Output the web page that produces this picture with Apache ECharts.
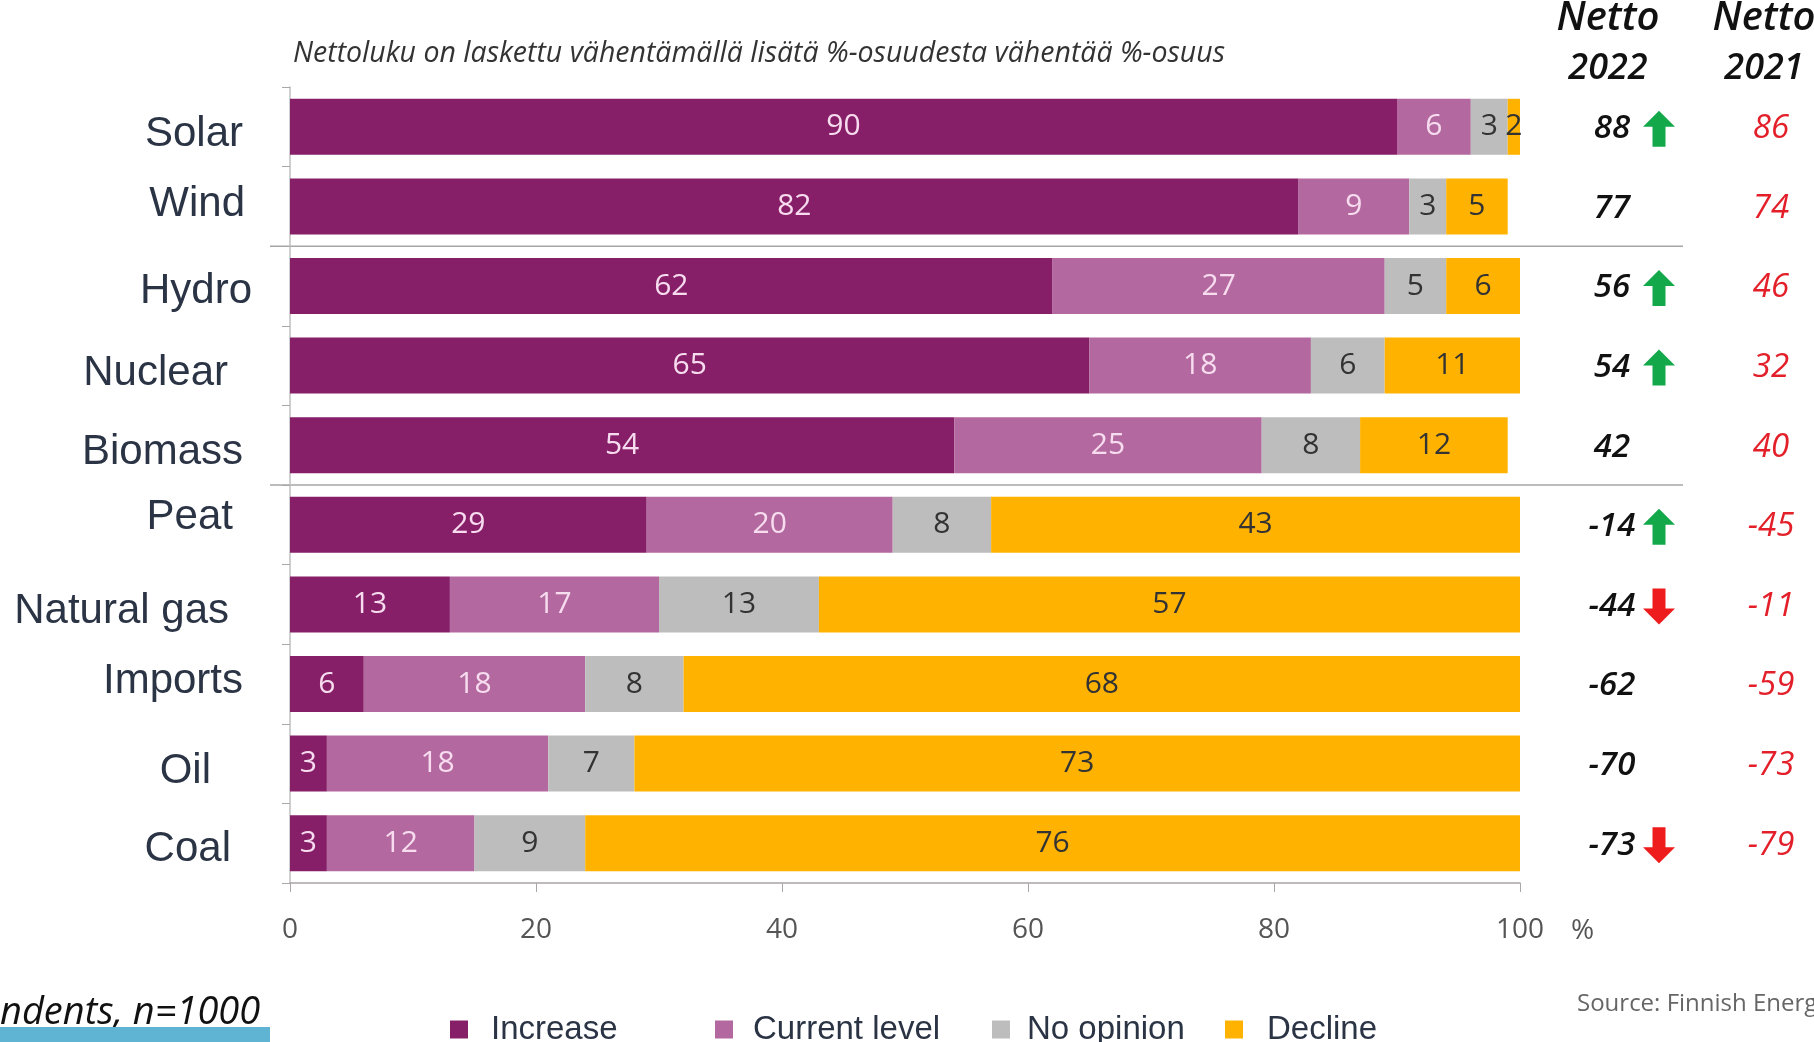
<!DOCTYPE html>
<html>
<head>
<meta charset="utf-8">
<script src="https://cdn.jsdelivr.net/npm/echarts@6/dist/echarts.min.js"></script>
<style>
html,body{margin:0;padding:0;background:#fff;}
#c{width:1814px;height:1042px;}
</style>
</head>
<body>
<div id="c"></div>
<script>
var categories = ['Solar','Wind','Hydro','Nuclear','Biomass','Peat','Natural gas','Imports','Oil','Coal'];
var increase   = [90, 82, 62, 65, 54, 29, 13, 6, 3, 3];
var current    = [6, 9, 27, 18, 25, 20, 17, 18, 18, 12];
var noOpinion  = [3, 3, 5, 6, 8, 8, 13, 8, 7, 9];
var decline    = [2, 5, 6, 11, 12, 43, 57, 68, 73, 76];
var netto2022  = [88, 77, 56, 54, 42, -14, -44, -62, -70, -73];
var netto2021  = [86, 74, 46, 32, 40, -45, -11, -59, -73, -79];
var trend      = [1, 0, 1, 1, 0, 1, -1, 0, 0, -1];
var xTicks     = [0, 20, 40, 60, 80, 100];
var seriesNames = ['Increase','Current level','No opinion','Decline'];

// layout only: hand-placed label nudges (px) as in the original slide
var labelShiftX = [5, 7, 14, -10, 5, -5, -9, 5, -27, -7];
var labelShiftY = [8, -2, 5, 8, 7, -7, 7, -3, 8, 6];

var colors = ['#861f68','#b3699f','#bdbdbd','#ffb300'];
var labelColors = ['#f7dcef','#f7dcef','#333333','#333333'];
var values = [increase, current, noOpinion, decline];

var chart = echarts.init(document.getElementById('c'), null, {renderer:'canvas'});

var barSeries = seriesNames.map(function(n,i){
  return {
    name: n, type: 'bar', stack: 'total', barWidth: 56,
    data: values[i],
    itemStyle: {color: colors[i]},
    label: {show: true, position: 'inside', color: labelColors[i],
            fontFamily: 'Open Sans', fontSize: 30},
    emphasis: {disabled: true}
  };
});

var nettoData = categories.map(function(c,i){ return [0, i, netto2022[i], netto2021[i], trend[i]]; });

var nettoSeries = {
  type: 'custom', name: 'netto', clip: false, silent: true,
  encode: {x: 0, y: 1},
  data: nettoData,
  renderItem: function(params, api){
    var y = api.coord([0, api.value(1)])[1];
    var v22 = api.value(2), v21 = api.value(3), t = api.value(4);
    var kids = [
      {type:'text', style:{text:String(v22), x:1612, y:y+2, align:'center', verticalAlign:'middle',
        fill:'#111', font:'italic 600 33px "Open Sans"'}},
      {type:'text', style:{text:String(v21), x:1771, y:y+2, align:'center', verticalAlign:'middle',
        fill:'#e3202a', font:'italic 33px "Open Sans"'}}
    ];
    var cx = 1659, h = 36, hw = 16, sw = 6.5, hh = 16;
    var top = y + 2 - h/2, bot = y + 2 + h/2;
    if (t > 0) {
      kids.push({type:'polygon', shape:{points:[[cx,top],[cx+hw,top+hh],[cx+sw,top+hh],[cx+sw,bot],[cx-sw,bot],[cx-sw,top+hh],[cx-hw,top+hh]]},
        style:{fill:'#13a94b'}});
    } else if (t < 0) {
      kids.push({type:'polygon', shape:{points:[[cx,bot],[cx+hw,bot-hh],[cx+sw,bot-hh],[cx+sw,top],[cx-sw,top],[cx-sw,bot-hh],[cx-hw,bot-hh]]},
        style:{fill:'#ee1c1c'}});
    }
    return {type:'group', children: kids};
  }
};

var legendLefts = [445, 710, 987, 1220];
var legendGaps = [18, 15, 12, 19];
var legends = seriesNames.map(function(n,i){
  return {
    data: [n], left: legendLefts[i], top: 1008, icon: 'rect',
    itemWidth: 18, itemHeight: 18,
    selectedMode: false,
    textStyle: {fontFamily: 'Liberation Sans, Arial', fontSize: 33, color: '#2b3445', padding:[0,0,0,legendGaps[i]]}
  };
});

var basePad = 32;
var richStyles = {};
categories.forEach(function(c,i){
  var dy = labelShiftY[i];
  var padR = basePad - labelShiftX[i];
  richStyles['c' + i] = {
    fontFamily: 'Liberation Sans, Arial', fontSize: 42, color: '#2b3445',
    padding: dy >= 0 ? [2*dy, padR, 0, 0] : [0, padR, -2*dy, 0]
  };
});

chart.setOption({
  animation: false,
  backgroundColor: '#ffffff',
  grid: {left: 290, right: 294, top: 87, bottom: 159, containLabel: false},
  legend: legends,
  xAxis: {
    type: 'value', min: 0, max: 100, interval: 20,
    axisLine: {show: true, lineStyle: {color: '#a8a2a6', width: 1.5}},
    axisTick: {show: true, length: 9, lineStyle: {color: '#a8a8a8'}},
    splitLine: {show: false},
    axisLabel: {margin: 33, fontFamily: 'Open Sans', fontSize: 28, color: '#555555',
      formatter: function(v){ return xTicks.indexOf(v) >= 0 ? String(v) : ''; }}
  },
  yAxis: {
    type: 'category', data: categories, inverse: true,
    axisLine: {show: true, lineStyle: {color: '#bfbfbf', width: 1.5}},
    axisTick: {show: true, length: 8, lineStyle: {color: '#a8a8a8'}},
    axisLabel: {margin: 20, fontFamily: 'Liberation Sans, Arial', fontSize: 42, color: '#2b3445',
      formatter: function(v, idx){ return '{c' + categories.indexOf(v) + '|' + v + '}'; },
      rich: richStyles}
  },
  series: barSeries.concat([nettoSeries])
});

var yW = chart.convertToPixel({yAxisIndex:0}, 'Wind');
var yH = chart.convertToPixel({yAxisIndex:0}, 'Hydro');
var yB = chart.convertToPixel({yAxisIndex:0}, 'Biomass');
var yP = chart.convertToPixel({yAxisIndex:0}, 'Peat');
var sep1 = (yW + yH)/2, sep2 = (yB + yP)/2;
var x100 = chart.convertToPixel({xAxisIndex:0}, 100);
var yAxisLabelY = chart.getHeight() - 159 + 48;

chart.setOption({
  graphic: [
    {type:'line', shape:{x1:270, y1:sep1, x2:1683, y2:sep1}, style:{stroke:'#a6a6a6', lineWidth:1.5}, silent:true},
    {type:'line', shape:{x1:270, y1:sep2, x2:1683, y2:sep2}, style:{stroke:'#a6a6a6', lineWidth:1.5}, silent:true},
    {type:'text', style:{text:'Nettoluku on laskettu vähentämällä lisätä %-osuudesta vähentää %-osuus', x:293, y:54,
      verticalAlign:'middle', fill:'#333', font:'italic 28.5px "Open Sans"'}},
    {type:'text', style:{text:'Netto', x:1608, y:19, align:'center', verticalAlign:'middle', fill:'#111', font:'italic 600 40px "Open Sans"'}},
    {type:'text', style:{text:'2022', x:1608, y:69, align:'center', verticalAlign:'middle', fill:'#111', font:'italic 600 36px "Open Sans"'}},
    {type:'text', style:{text:'Netto', x:1764, y:19, align:'center', verticalAlign:'middle', fill:'#111', font:'italic 600 40px "Open Sans"'}},
    {type:'text', style:{text:'2021', x:1764, y:69, align:'center', verticalAlign:'middle', fill:'#111', font:'italic 600 36px "Open Sans"'}},
    {type:'text', style:{text:'%', x:x100 + 51, y:yAxisLabelY, verticalAlign:'middle', fill:'#555', font:'28px "Open Sans"'}},
    {type:'text', style:{text:'ndents, n=1000', x:0, y:1013, verticalAlign:'middle', fill:'#111', font:'italic 38px "Open Sans"'}},
    {type:'rect', shape:{x:0, y:1027, width:270, height:15}, style:{fill:'#5fb4d3'}, silent:true},
    {type:'text', style:{text:'Source: Finnish Energy', x:1577, y:1004, verticalAlign:'middle', fill:'#666', font:'24px "Open Sans"'}}
  ]
});
</script>
</body>
</html>
